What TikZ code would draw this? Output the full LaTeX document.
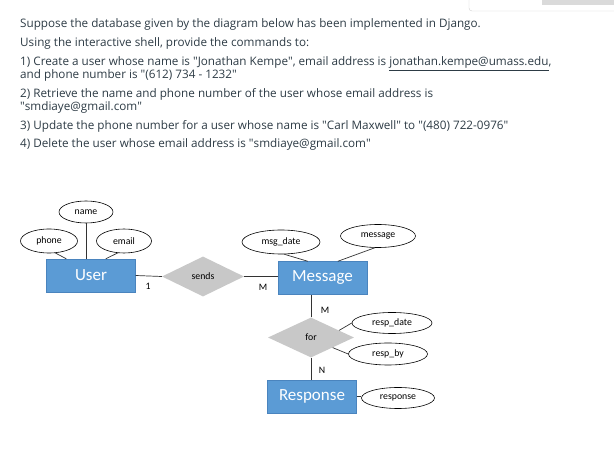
\documentclass[tikz,border=0pt]{standalone}
\usepackage{fontspec}
\setmainfont{Carlito}
\newfontfamily\qfont{Open Sans}
\usetikzlibrary{shapes.geometric,positioning,calc}
\definecolor{boxblue}{HTML}{5B9BD5}
\definecolor{boxedge}{HTML}{4A84BE}
\definecolor{relgray}{HTML}{C8C8C8}
\definecolor{qtext}{HTML}{2D3B45}
\definecolor{uiedge}{HTML}{D0D0D0}
\definecolor{uibar}{HTML}{DADADA}
\newcommand{\dq}{\textquotedbl}

\begin{document}
\begin{tikzpicture}[
  x=1pt, y=-1pt,
  entity/.style={rectangle, fill=boxblue, draw=boxedge, text=white, minimum width=89, minimum height=33, inner sep=0pt, font=\fontsize{17}{17}\selectfont},
  attr/.style={ellipse, draw, line width=0.6pt, fill=white, inner sep=0pt, font=\fontsize{9.8}{9.8}\selectfont},
  rel/.style={diamond, fill=relgray, inner sep=0pt, aspect=2, font=\fontsize{9.8}{9.8}\selectfont},
  card/.style={inner sep=0pt, font=\fontsize{9.8}{9.8}\selectfont},
  link/.style={draw=black!80, line width=0.7pt},
  qline/.style={anchor=base west, inner sep=0pt, text=qtext, font=\qfont\fontsize{11.7}{11.7}\selectfont},
]
  \useasboundingbox (0,0) rectangle (614,454);
  \clip (0,0) rectangle (614,454);

  % panel in the corner
  \draw[uiedge, rounded corners=3] (469,-10) rectangle (630,11);
  \fill[uibar] (542,-10) rectangle (630,5);

  % question
  \node[qline] (q1) at (20,28) {Suppose the database given by the diagram below has been implemented in Django.};
  \node[qline] (q2) at (20,46.5) {Using the interactive shell, provide the commands to:};
  \node[qline] (q3) at (20,65.5) {1) Create a user whose name is \dq Jonathan Kempe\dq, email address is \underline{jonathan.kempe@umass.edu},};
  \node[qline] (q4) at (20,79) {and phone number is \dq(612) 734 - 1232\dq};
  \node[qline] (q5) at (20,97.2) {2) Retrieve the name and phone number of the user whose email address is};
  \node[qline] (q6) at (20,110.7) {\dq smdiaye@gmail.com\dq};
  \node[qline] (q7) at (20,129.8) {3) Update the phone number for a user whose name is \dq Carl Maxwell\dq{} to \dq(480) 722-0976\dq};
  \node[qline] (q8) at (20,147.8) {4) Delete the user whose email address is \dq smdiaye@gmail.com\dq};

  % entities
  \node[entity] (user)     at (91,275.5) {User};
  \node[entity] (message)  at (322.5,278) {Message};
  \node[entity] (response) at (312,396.5) {Response};

  % relationships
  \node[rel, minimum width=82, minimum height=40] (sends) at (203,276.5) {sends};
  \node[rel, minimum width=86, minimum height=40] (for)   at (311,337.5) {for};

  % attributes
  \node[attr, minimum width=54, minimum height=22] (name)     at (86,212)  {name};
  \node[attr, minimum width=57, minimum height=24] (phone)    at (49,241)  {phone};
  \node[attr, minimum width=55, minimum height=24] (email)    at (124,241) {email};
  \node[attr, minimum width=78, minimum height=24] (msgdate)  at (281,242) {msg\_date};
  \node[attr, minimum width=75, minimum height=23] (msgtext)  at (378,236) {message};
  \node[attr, minimum width=80, minimum height=21] (respdate) at (392,323) {resp\_date};
  \node[attr, minimum width=79, minimum height=22] (respby)   at (388,354) {resp\_by};
  \node[attr, minimum width=73, minimum height=21] (resptext) at (398,398) {response};

  % connectors
  \draw[link] (name.south) -- (name.south |- user.north);
  \draw[link] (phone.-62) -- ([xshift=20pt]user.north west);
  \draw[link] (email.-118) -- ([xshift=-30pt]user.north east);
  \draw[link] (msgdate.-75) -- ([xshift=30pt]message.north west);
  \draw[link] (msgtext.-105) -- ([xshift=60pt]message.north west);
  \draw[link] (user.east) -- (sends.west);
  \draw[link] (sends.east) -- (sends.east -| message.west);
  \draw[link] (for.north) -- (for.north |- message.south);
  \draw[link] (for.south) -- (for.south |- response.north);
  \draw[link] ($(for.north east)!0.3!(for.east)$) -- (respdate.west);
  \draw[link] (for.south east) -- (respby.west);
  \draw[link] (response.east) -- (response.east -| resptext.west);

  % cardinalities
  \node[card] (c1) at (148,286) {1};
  \node[card] (c2) at (263,287) {M};
  \node[card] (c3) at (325,310) {M};
  \node[card] (c4) at (322,370) {N};
\end{tikzpicture}
\end{document}
